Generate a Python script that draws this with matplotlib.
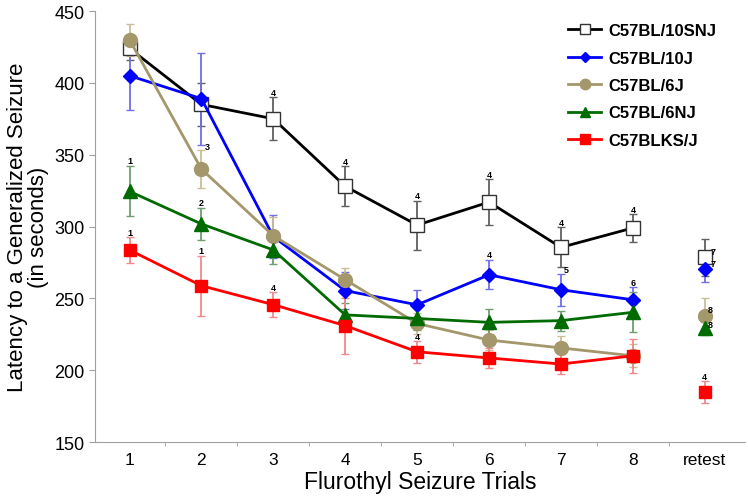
import matplotlib.pyplot as plt
import numpy as np

plt.rcParams['font.family'] = ['Liberation Sans', 'DejaVu Sans']

# trial categories
trials = ['1', '2', '3', '4', '5', '6', '7', '8', 'retest']

# mean latency (s) for trials 1-8, then the retest value
snj_mean = [424, 385, 375, 328, 301, 317, 285.5, 299]
snj_err = [8, 15, 15, 14, 17, 16, 14, 9.5]
snj_retest, snj_retest_err = 278.6, 13

b10j_mean = [405, 389, 293, 255.4, 245.5, 266.4, 256, 249]
b10j_err = [24, 32, 15, 12.7, 10, 10, 11, 9]
b10j_retest, b10j_retest_err = 270.5, 9

b6j_mean = [430, 340, 293.6, 263, 232.5, 221, 215.5, 210]
b6j_err = [11, 13.5, 13, 8, 7, 7, 8, 8]
b6j_retest, b6j_retest_err = 238, 12

b6nj_mean = [324.5, 301.8, 283.7, 238.5, 236, 233.3, 234.5, 240.3]
b6nj_err = [17.5, 11, 9.5, 8, 8, 9, 7, 14]
b6nj_retest, b6nj_retest_err = 229.4, 5

ks_mean = [283.7, 258.8, 245.6, 231, 212.8, 208.5, 204.3, 210]
ks_err = [9, 21, 8.5, 19.5, 7.5, 7, 7, 11.7]
ks_retest, ks_retest_err = 184.6, 7.7

# small n-annotations: (x, y, text)
notes = [(1, 345.8, '1'), (2.08, 355.6, '3'), (2, 316.4, '2'), (3, 393.6, '4'),
         (1, 296, '1'), (2, 283.2, '1'), (3, 257.7, '4'), (4, 345.4, '4'),
         (5, 321.5, '4'), (5, 223.2, '4'), (6, 336.1, '4'), (6, 280.2, '4'),
         (7, 303, '4'), (7.07, 269.8, '5'), (8, 312.2, '4'), (8, 261.2, '6'),
         (9.12, 282.8, '7'), (9.12, 274.6, '7'), (9.08, 242.1, '8'),
         (9.08, 231.7, '8'), (9, 195.5, '4')]

series = [
    ('C57BL/10SNJ', snj_mean, snj_err, snj_retest, snj_retest_err,
     'black', '#606060', dict(marker='s', markersize=10, markerfacecolor='white', markeredgecolor='#333333')),
    ('C57BL/10J', b10j_mean, b10j_err, b10j_retest, b10j_retest_err,
     '#0000FF', '#7070E8', dict(marker='D', markersize=7)),
    ('C57BL/6J', b6j_mean, b6j_err, b6j_retest, b6j_retest_err,
     '#A3976B', '#C9BE96', dict(marker='o', markersize=10)),
    ('C57BL/6NJ', b6nj_mean, b6nj_err, b6nj_retest, b6nj_retest_err,
     '#006B00', '#6E9E6E', dict(marker='^', markersize=10)),
    ('C57BLKS/J', ks_mean, ks_err, ks_retest, ks_retest_err,
     '#FF0000', '#F08A8A', dict(marker='s', markersize=9)),
]

fig = plt.figure(figsize=(7.48, 5.02), dpi=100)
ax = fig.add_axes([0.127, 0.1175, 0.869, 0.8585])

x = np.arange(1, 9)
handles = []
for name, mean, err, rt, rt_err, color, ecolor, mk in series:
    ax.errorbar(x, mean, yerr=err, fmt='none', ecolor=ecolor, elinewidth=1.3, capsize=3, zorder=2)
    ax.errorbar([9], [rt], yerr=[rt_err], fmt='none', ecolor=ecolor, elinewidth=1.3, capsize=3, zorder=2)
    h, = ax.plot(x, mean, color=color, linewidth=2, zorder=3, **mk)
    ax.plot([9], [rt], color=color, linestyle='none', zorder=3, **mk)
    handles.append(h)

for nx, ny, t in notes:
    ax.text(nx, ny, t, fontsize=6.5, fontweight='bold', ha='center', va='center')

ax.set_xlim(0.52, 9.56)
ax.set_ylim(150, 450)
ax.set_yticks(range(150, 451, 50))
ax.set_xticks(range(1, 10))
ax.set_xticklabels(trials)
ax.set_xticks(np.arange(1.5, 9, 1), minor=True)
ax.tick_params(axis='x', which='major', length=0, labelsize=12.5, pad=7)
ax.tick_params(axis='x', which='minor', length=3, color='#A0A0A0')
ax.tick_params(axis='y', length=4, color='#A0A0A0', labelsize=13)

for s in ['top', 'right']:
    ax.spines[s].set_visible(False)
for s in ['left', 'bottom']:
    ax.spines[s].set_color('#A0A0A0')

ax.set_xlabel('Flurothyl Seizure Trials', fontsize=16.5, labelpad=2)
ax.set_ylabel('Latency to a Generalized Seizure\n(in seconds)', fontsize=16, labelpad=4, linespacing=1.0)

leg = ax.legend(handles, [s[0] for s in series], loc='upper left',
                bbox_to_anchor=(568 / 748, 1 - 24 / 502), bbox_transform=fig.transFigure,
                frameon=False, borderpad=0, borderaxespad=0, handlelength=2.0,
                handletextpad=0.4, labelspacing=0.75, markerscale=0.75,
                prop={'weight': 'bold', 'size': 12})

fig.savefig('out.png', dpi=100)
